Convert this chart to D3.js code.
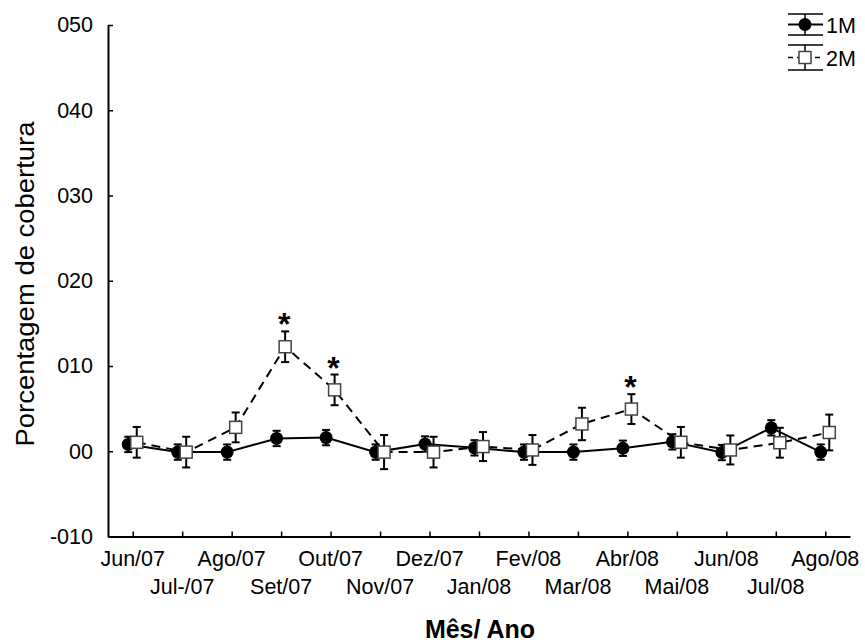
<!DOCTYPE html>
<html>
<head>
<meta charset="utf-8">
<script src="https://cdn.jsdelivr.net/npm/d3@7"></script>
<style>
  html, body { margin: 0; padding: 0; background: #fff; }
  svg { display: block; }
  text { font-family: "Liberation Sans", Arial, sans-serif; fill: #000; }
</style>
</head>
<body>
<script>
// ---- data ----
const months = ["Jun/07","Jul-/07","Ago/07","Set/07","Out/07","Nov/07","Dez/07","Jan/08","Fev/08","Mar/08","Abr/08","Mai/08","Jun/08","Jul/08","Ago/08"];
const series1M = [0.8, -0.1, -0.1, 1.5, 1.6, -0.1, 0.85, 0.4, -0.1, -0.1, 0.35, 1.1, -0.15, 2.75, -0.1];
const err1M    = [0.9, 0.9, 0.9, 0.9, 0.9, 0.9, 0.9, 0.9, 0.9, 0.9, 0.9, 0.9, 0.9, 0.9, 0.9];
const series2M = [1.05, -0.1, 2.8, 12.26, 7.2, -0.1, -0.1, 0.55, 0.15, 3.2, 4.95, 1.05, 0.15, 1.0, 2.2];
const err2M    = [1.8, 1.8, 1.75, 1.8, 1.8, 2.0, 1.8, 1.7, 1.75, 1.9, 1.75, 1.8, 1.7, 1.75, 2.1];
const significant = ["Set/07", "Out/07", "Abr/08"];
const yTickValues = [-10, 0, 10, 20, 30, 40, 50];
const yTickLabels = ["-010", "00", "010", "020", "030", "040", "050"];
const legendLabels = ["1M", "2M"];
const xTitle = "Mês/ Ano";
const yTitle = "Porcentagem de cobertura";

// ---- layout ----
const W = 865, H = 642;
const plotL = 108, plotR = 850, plotT = 25, plotB = 536.5;
const svg = d3.select("body").append("svg").attr("width", W).attr("height", H);

const x = d3.scalePoint().domain(months).range([plotL, plotR]).padding(0.5);
const y = d3.scaleLinear().domain([-10, 50]).range([plotB, plotT]);

const off1 = -4.5, off2 = 4;

// axes
const yAxis = d3.axisLeft(y).tickValues(yTickValues)
  .tickFormat((d, i) => yTickLabels[i]).tickSizeInner(-5).tickSizeOuter(0).tickPadding(15);
const gy = svg.append("g").attr("transform", `translate(${plotL},0)`).call(yAxis);
gy.select(".domain").attr("stroke", "#000").attr("stroke-width", 2);
gy.selectAll(".tick line").attr("stroke", "#000").attr("stroke-width", 1.5);
gy.selectAll(".tick text").attr("font-size", 21.5).attr("font-family", "Liberation Sans, Arial, sans-serif").attr("fill", "#000");

const xAxis = d3.axisBottom(x).tickSizeInner(-5).tickSizeOuter(0).tickFormat("");
const gx = svg.append("g").attr("transform", `translate(0,${plotB})`).call(xAxis);
gx.select(".domain").attr("stroke", "#000").attr("stroke-width", 2);
gx.selectAll(".tick line").attr("stroke", "#000").attr("stroke-width", 1.5);

// x tick labels in two rows
svg.append("g").selectAll("text").data(months).join("text")
  .attr("x", d => x(d))
  .attr("y", (d, i) => i % 2 === 0 ? 566 : 594)
  .attr("text-anchor", "middle")
  .attr("font-size", 21.5)
  .text(d => d);

// titles
svg.append("text").attr("x", 480).attr("y", 638).attr("text-anchor", "middle")
  .attr("font-size", 25).attr("font-weight", "bold").text(xTitle);
svg.append("text").attr("transform", `translate(34,${284}) rotate(-90)`).attr("text-anchor", "middle")
  .attr("font-size", 26).attr("textLength", 325).attr("lengthAdjust", "spacingAndGlyphs").text(yTitle);

// ---- series 1M ----
const line1 = d3.line().x((d, i) => x(months[i]) + off1).y(d => y(d));
svg.append("path").datum(series1M).attr("d", line1)
  .attr("fill", "none").attr("stroke", "#000").attr("stroke-width", 2);

const capW = 4;
function errBars(g, vals, errs, off) {
  const gg = g.append("g").attr("stroke", "#000").attr("stroke-width", 2);
  vals.forEach((v, i) => {
    const cx = x(months[i]) + off;
    const y1 = y(v + errs[i]), y2 = y(v - errs[i]);
    gg.append("line").attr("x1", cx).attr("x2", cx).attr("y1", y1).attr("y2", y2);
    gg.append("line").attr("x1", cx - capW).attr("x2", cx + capW).attr("y1", y1).attr("y2", y1);
    gg.append("line").attr("x1", cx - capW).attr("x2", cx + capW).attr("y1", y2).attr("y2", y2);
  });
}
errBars(svg, series1M, err1M, off1);
svg.append("g").selectAll("circle").data(series1M).join("circle")
  .attr("cx", (d, i) => x(months[i]) + off1).attr("cy", d => y(d)).attr("r", 6.5).attr("fill", "#000");

// ---- series 2M ----
const line2 = d3.line().x((d, i) => x(months[i]) + off2).y(d => y(d));
svg.append("path").datum(series2M).attr("d", line2)
  .attr("fill", "none").attr("stroke", "#000").attr("stroke-width", 2).attr("stroke-dasharray", "9,6");
errBars(svg, series2M, err2M, off2);
const sq = 12;
svg.append("g").selectAll("rect").data(series2M).join("rect")
  .attr("x", (d, i) => x(months[i]) + off2 - sq / 2).attr("y", d => y(d) - sq / 2)
  .attr("width", sq).attr("height", sq)
  .attr("fill", "#fff").attr("stroke", "#444").attr("stroke-width", 1.5);

// significance asterisks
svg.append("g").selectAll("text").data(significant).join("text")
  .attr("x", d => x(d) + off2 - 1)
  .attr("y", d => { const i = months.indexOf(d); return y(series2M[i] + err2M[i]) + 4; })
  .attr("text-anchor", "middle").attr("font-size", 32).attr("font-weight", "bold").text("*");

// ---- legend ----
const lg = svg.append("g");
const lx0 = 788, lx1 = 823, lcx = 805;
// 1M
[[14, 24.5, 35]].forEach(([t, c, b]) => {
  lg.append("line").attr("x1", lx0).attr("x2", lx1).attr("y1", t).attr("y2", t).attr("stroke", "#000").attr("stroke-width", 1.5);
  lg.append("line").attr("x1", lx0).attr("x2", lx1).attr("y1", b).attr("y2", b).attr("stroke", "#000").attr("stroke-width", 1.5);
  lg.append("line").attr("x1", lcx).attr("x2", lcx).attr("y1", t).attr("y2", b).attr("stroke", "#000").attr("stroke-width", 1.5);
  lg.append("line").attr("x1", lx0).attr("x2", lx1).attr("y1", c).attr("y2", c).attr("stroke", "#000").attr("stroke-width", 2);
  lg.append("circle").attr("cx", lcx).attr("cy", c).attr("r", 6.5).attr("fill", "#000");
  lg.append("text").attr("x", 826).attr("y", c + 8).attr("font-size", 21.5).text(legendLabels[0]);
});
// 2M
[[45, 57.5, 70]].forEach(([t, c, b]) => {
  lg.append("line").attr("x1", lx0).attr("x2", lx1).attr("y1", t).attr("y2", t).attr("stroke", "#000").attr("stroke-width", 1.5);
  lg.append("line").attr("x1", lx0).attr("x2", lx1).attr("y1", b).attr("y2", b).attr("stroke", "#000").attr("stroke-width", 1.5);
  lg.append("line").attr("x1", lcx).attr("x2", lcx).attr("y1", t).attr("y2", b).attr("stroke", "#000").attr("stroke-width", 1.5);
  lg.append("line").attr("x1", lx0).attr("x2", lx1).attr("y1", c).attr("y2", c).attr("stroke", "#000").attr("stroke-width", 1.5).attr("stroke-dasharray", "5,4");
  lg.append("rect").attr("x", lcx - sq / 2).attr("y", c - sq / 2).attr("width", sq).attr("height", sq)
    .attr("fill", "#fff").attr("stroke", "#444").attr("stroke-width", 1.5);
  lg.append("text").attr("x", 826).attr("y", c + 8).attr("font-size", 21.5).text(legendLabels[1]);
});
</script>
</body>
</html>
